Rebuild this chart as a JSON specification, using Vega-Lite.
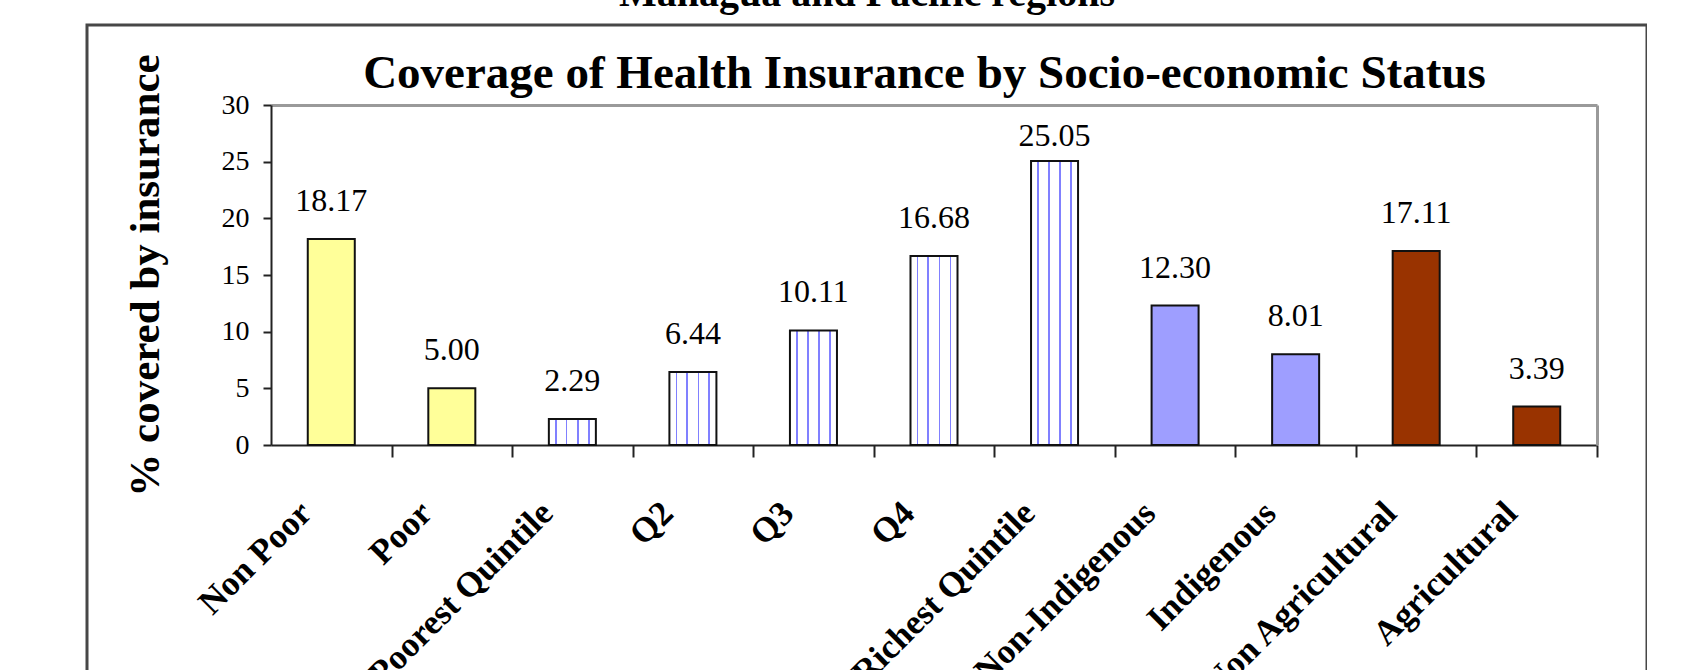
{
  "$schema": "https://vega.github.io/schema/vega-lite/v6.json",
  "width": 1560,
  "height": 700,
  "autosize": {"type": "none"},
  "padding": {"left": 87, "top": 25, "right": 0, "bottom": 0},
  "background": "white",
  "title": {"text": "Managua and Pacific regions", "font": "Liberation Serif", "fontSize": 40, "fontWeight": "bold", "anchor": "middle", "frame": "group", "offset": 11, "color": "black"},
  "config": {"view": {"stroke": "#474747", "strokeWidth": 3}, "font": "Liberation Serif"},
  "data": {"values": [
    {"category": "Non Poor", "pct": 18.17, "group": "poverty"},
    {"category": "Poor", "pct": 5.00, "group": "poverty"},
    {"category": "Poorest Quintile", "pct": 2.29, "group": "quintile"},
    {"category": "Q2", "pct": 6.44, "group": "quintile"},
    {"category": "Q3", "pct": 10.11, "group": "quintile"},
    {"category": "Q4", "pct": 16.68, "group": "quintile"},
    {"category": "Richest Quintile", "pct": 25.05, "group": "quintile"},
    {"category": "Non-Indigenous", "pct": 12.30, "group": "ethnicity"},
    {"category": "Indigenous", "pct": 8.01, "group": "ethnicity"},
    {"category": "Non Agricultural", "pct": 17.11, "group": "sector"},
    {"category": "Agricultural", "pct": 3.39, "group": "sector"}
  ]},
  "layer": [
    {
      "transform": [{"filter": "datum.group === 'poverty'"}],
      "mark": {"type": "bar", "fill": "#FFFF99", "stroke": "#111111", "strokeWidth": 2},
      "encoding": {
        "x": {"field": "category", "type": "nominal", "sort": null,
          "scale": {"domain": ["Non Poor", "Poor", "Poorest Quintile", "Q2", "Q3", "Q4", "Richest Quintile", "Non-Indigenous", "Indigenous", "Non Agricultural", "Agricultural"], "range": [184, 1510], "paddingInner": 0.61, "paddingOuter": 0.305},
          "axis": {"orient": "bottom", "offset": -280, "title": null, "domainColor": "#222222", "domainWidth": 2, "tickColor": "#222222", "tickWidth": 2, "tickSize": 12, "tickOffset": 60.3, "labelAngle": -45, "labelAlign": "right", "labelBaseline": "middle", "labelFont": "Liberation Serif", "labelFontSize": 35, "labelFontWeight": "bold", "labelColor": "black", "labelPadding": 50, "labelOffset": -86.3, "labelLimit": 1000, "labelOverlap": false, "grid": false}},
        "y": {"field": "pct", "type": "quantitative",
          "scale": {"domain": [0, 30], "range": [420, 80], "nice": false},
          "axis": {"orient": "left", "offset": -184, "values": [0, 5, 10, 15, 20, 25, 30], "title": "% covered by insurance", "titleFont": "Liberation Serif", "titleFontSize": 43, "titleFontWeight": "bold", "titleColor": "black", "titlePadding": 54, "domainColor": "#222222", "domainWidth": 2, "tickColor": "#222222", "tickWidth": 2, "tickSize": 8, "labelFont": "Liberation Serif", "labelFontSize": 28, "labelColor": "black", "labelPadding": 14, "grid": false}}
      }
    },
    {
      "transform": [{"filter": "datum.group === 'quintile'"}],
      "mark": {"type": "bar", "stroke": "#111111", "strokeWidth": 2,
        "fill": {"gradient": "linear", "x1": 0, "x2": 1, "y1": 0, "y2": 0, "stops": [
          {"offset": 0, "color": "#ffffff"}, {"offset": 0.13, "color": "#ffffff"}, {"offset": 0.13, "color": "#8080ff"}, {"offset": 0.165, "color": "#8080ff"}, {"offset": 0.165, "color": "#ffffff"},
          {"offset": 0.36, "color": "#ffffff"}, {"offset": 0.36, "color": "#8080ff"}, {"offset": 0.395, "color": "#8080ff"}, {"offset": 0.395, "color": "#ffffff"},
          {"offset": 0.6, "color": "#ffffff"}, {"offset": 0.6, "color": "#8080ff"}, {"offset": 0.635, "color": "#8080ff"}, {"offset": 0.635, "color": "#ffffff"},
          {"offset": 0.83, "color": "#ffffff"}, {"offset": 0.83, "color": "#8080ff"}, {"offset": 0.865, "color": "#8080ff"}, {"offset": 0.865, "color": "#ffffff"},
          {"offset": 1, "color": "#ffffff"}]}},
      "encoding": {
        "x": {"field": "category", "type": "nominal", "sort": null,
          "axis": {"orient": "top", "offset": -80, "labels": false, "ticks": false, "domainColor": "#9a9a9a", "domainWidth": 3, "title": "Coverage of Health Insurance by Socio-economic Status", "titleX": 837, "titleFont": "Liberation Serif", "titleFontSize": 47, "titleFontWeight": "bold", "titleColor": "black", "titlePadding": 8, "grid": false}},
        "y": {"field": "pct", "type": "quantitative",
          "scale": {"domain": [0, 30], "range": [420, 80], "nice": false},
          "axis": {"orient": "right", "offset": -50, "labels": false, "ticks": false, "domainColor": "#9a9a9a", "domainWidth": 3, "title": null, "grid": false}}
      }
    },
    {
      "transform": [{"filter": "datum.group === 'ethnicity'"}],
      "mark": {"type": "bar", "fill": "#9e9eff", "stroke": "#111111", "strokeWidth": 2},
      "encoding": {
        "x": {"field": "category", "type": "nominal", "sort": null, "axis": null},
        "y": {"field": "pct", "type": "quantitative", "scale": {"domain": [0, 30], "range": [420, 80], "nice": false}, "axis": null}
      }
    },
    {
      "transform": [{"filter": "datum.group === 'sector'"}],
      "mark": {"type": "bar", "fill": "#993300", "stroke": "#111111", "strokeWidth": 2},
      "encoding": {
        "x": {"field": "category", "type": "nominal", "sort": null, "axis": null},
        "y": {"field": "pct", "type": "quantitative", "scale": {"domain": [0, 30], "range": [420, 80], "nice": false}, "axis": null}
      }
    },
    {
      "mark": {"type": "text", "baseline": "alphabetic", "dy": -28, "font": "Liberation Serif", "fontSize": 32, "color": "black"},
      "encoding": {
        "x": {"field": "category", "type": "nominal", "sort": null, "axis": null},
        "y": {"field": "pct", "type": "quantitative",
          "scale": {"domain": [0, 23.9], "range": [420, 149.13], "clamp": true, "nice": false, "zero": false},
          "axis": null},
        "text": {"field": "pct", "type": "quantitative", "format": ".2f"}
      }
    }
  ],
  "resolve": {"axis": {"x": "independent", "y": "independent"}, "scale": {"y": "independent"}}
}
